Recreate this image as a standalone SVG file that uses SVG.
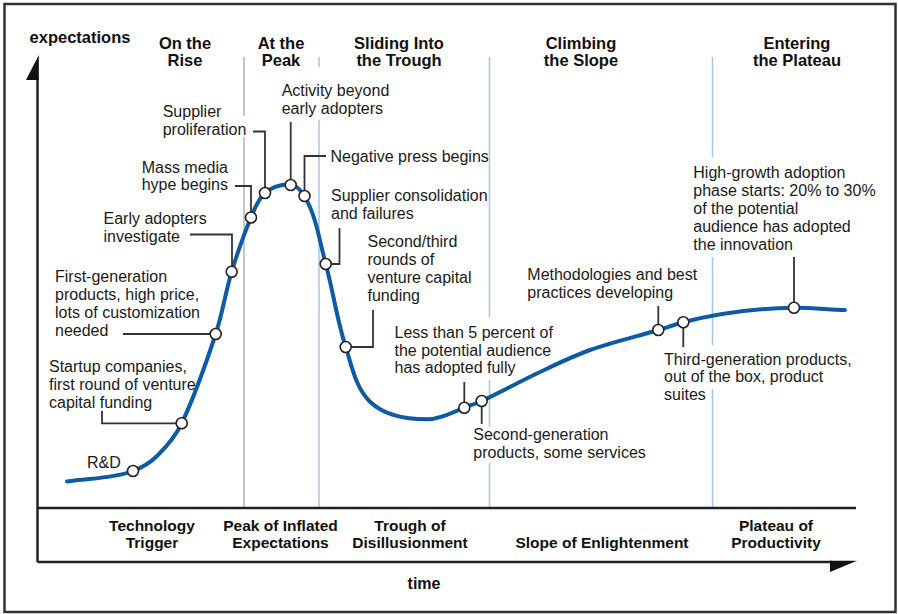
<svg xmlns="http://www.w3.org/2000/svg" width="898" height="614" viewBox="0 0 898 614">
<style>
.hd{font-family:"Liberation Sans",Arial,sans-serif;font-weight:bold;font-size:16.5px;fill:#111;text-anchor:middle}
.ph{font-family:"Liberation Sans",Arial,sans-serif;font-weight:bold;font-size:15.5px;fill:#111;text-anchor:middle}
.lb{font-family:"Liberation Sans",Arial,sans-serif;font-size:16px;fill:#1a1a1a}
.gray{stroke:#b3b3b3;stroke-width:1.5;fill:none}
.blue{stroke:#a4c4e8;stroke-width:1.5;fill:none}
.ax{stroke:#222;stroke-width:2.5;fill:none}
.ld{stroke:#333;stroke-width:1.8;fill:none}
.dot{fill:#fff;stroke:#222;stroke-width:1.6}
</style>
<rect x="0" y="0" width="898" height="614" fill="#fff"/>
<rect x="4.5" y="4" width="891" height="608" fill="none" stroke="#333" stroke-width="2.5"/>
<g id="dividers">
<path class="gray" d="M244,57V116M244,137V508"/>
<path class="blue" d="M319,57V67M319,120V508"/>
<path class="blue" d="M489.5,57V317M489.5,380V427M489.5,463V508"/>
<path class="blue" d="M712.5,57V157M712.5,257V345M712.5,389V508"/>
</g>
<g id="axes">
<path class="ax" d="M37.5,78V562M37.5,508H856M37.5,562H832"/>
<polygon points="38.8,55 38.8,80 26,80" fill="#111"/>
<polygon points="830,560.8 857,560.8 830,572" fill="#111"/>
</g>
<g id="headers">
<text class="hd" x="80" y="43">expectations</text>
<text class="hd" x="185" y="48.5">On the</text>
<text class="hd" x="185" y="66">Rise</text>
<text class="hd" x="281" y="48.5">At the</text>
<text class="hd" x="281" y="66">Peak</text>
<text class="hd" x="399" y="48.5">Sliding Into</text>
<text class="hd" x="399" y="66">the Trough</text>
<text class="hd" x="581" y="48.5">Climbing</text>
<text class="hd" x="581" y="66">the Slope</text>
<text class="hd" x="797" y="48.5">Entering</text>
<text class="hd" x="797" y="66">the Plateau</text>
</g>
<g id="phases">
<text class="ph" x="152" y="531">Technology</text>
<text class="ph" x="152" y="548">Trigger</text>
<text class="ph" x="280.5" y="531">Peak of Inflated</text>
<text class="ph" x="280.5" y="548">Expectations</text>
<text class="ph" x="410" y="531">Trough of</text>
<text class="ph" x="410" y="548">Disillusionment</text>
<text class="ph" x="602" y="548">Slope of Enlightenment</text>
<text class="ph" x="776" y="531">Plateau of</text>
<text class="ph" x="776" y="548">Productivity</text>
<text class="ph" x="424" y="588.5" style="font-size:16px">time</text>
</g>
<g id="hype-curve">
<path fill="none" stroke="#0d5aa7" stroke-width="4" stroke-linecap="round" d="M67,481.5 C89,478 112.2,478.9 133,471 C141.8,467.7 150.3,462.6 157,456 C166.8,446.4 175.8,435.6 181.7,423.3 C195.5,394.6 205.7,364.2 215.7,334 C222.4,313.7 225.5,292.2 231.7,271.7 C237.3,253.3 243.5,235.2 251,217.5 C254.7,208.8 257.9,199.2 265,193 C271.4,187.4 280.5,184.5 289,184.5 C295.4,184.5 301.3,190.5 304.5,196 C316.4,216.5 319.5,241.1 325.7,264 C333.2,291.5 337,319.9 345.7,347 C351.8,366 355.6,387.9 370,401.7 C384.3,415.4 407.1,419.3 427,419.3 C440,419.3 452.2,412.5 464.3,407.7 C470.1,405.4 476.1,403.6 481.7,401 C501.3,391.7 520.4,381.2 540,372 C556.5,364.2 572.9,356.1 590,350 C612.3,342.1 635.6,336.8 658.3,330 C666.6,327.5 674.9,324.5 683.3,322.3 C719.4,313 756.8,308.4 794,307.7 C811,307.4 828,309.5 845,310"/>
</g>
<g id="connectors">
<path class="ld" d="M102,411V423.3H176"/>
<path class="ld" d="M123,334H210"/>
<path class="ld" d="M190,234.5H232V266"/>
<path class="ld" d="M235,186H251V212"/>
<path class="ld" d="M253,131.5H265V187.5"/>
<path class="ld" d="M290.7,122V179.5"/>
<path class="ld" d="M326,156H304.5V190.5"/>
<path class="ld" d="M339.5,228V264H331.5"/>
<path class="ld" d="M373,310V347H351.5"/>
<path class="ld" d="M464.3,382V402"/>
<path class="ld" d="M481.7,407V424"/>
<path class="ld" d="M658.3,306V324.5"/>
<path class="ld" d="M683.3,328V347"/>
<path class="ld" d="M794,257V302"/>
</g>
<g id="n-rd"><circle class="dot" cx="133" cy="471" r="5.5"/><text class="lb" x="87" y="468">R&amp;D</text></g>
<g id="n-startup"><circle class="dot" cx="181.7" cy="423.3" r="5.5"/><text class="lb" x="49" y="371.5">Startup companies,</text><text class="lb" x="49" y="389.5">first round of venture</text><text class="lb" x="49" y="407.5">capital funding</text></g>
<g id="n-firstgen"><circle class="dot" cx="215.7" cy="334" r="5.5"/><text class="lb" x="55" y="281.5">First-generation</text><text class="lb" x="55" y="299.5">products, high price,</text><text class="lb" x="55" y="317.5">lots of customization</text><text class="lb" x="55" y="335.5">needed</text></g>
<g id="n-early"><circle class="dot" cx="231.7" cy="271.7" r="5.5"/><text class="lb" x="103.5" y="224">Early adopters</text><text class="lb" x="103.5" y="241.5">investigate</text></g>
<g id="n-media"><circle class="dot" cx="251" cy="217.5" r="5.5"/><text class="lb" x="141.7" y="172.5">Mass media</text><text class="lb" x="141.7" y="190">hype begins</text></g>
<g id="n-prolif"><circle class="dot" cx="265" cy="193" r="5.5"/><text class="lb" x="162.7" y="117">Supplier</text><text class="lb" x="162.7" y="135">proliferation</text></g>
<g id="n-activity"><circle class="dot" cx="290.7" cy="185" r="5.5"/><text class="lb" x="281.7" y="96">Activity beyond</text><text class="lb" x="281.7" y="114">early adopters</text></g>
<g id="n-negative"><circle class="dot" cx="304.5" cy="196" r="5.5"/><text class="lb" x="330.5" y="162">Negative press begins</text></g>
<g id="n-consol"><circle class="dot" cx="325.7" cy="264" r="5.5"/><text class="lb" x="331" y="201">Supplier consolidation</text><text class="lb" x="331" y="219">and failures</text></g>
<g id="n-rounds"><circle class="dot" cx="345.7" cy="347" r="5.5"/><text class="lb" x="367.5" y="247">Second/third</text><text class="lb" x="367.5" y="265">rounds of</text><text class="lb" x="367.5" y="283">venture capital</text><text class="lb" x="367.5" y="301">funding</text></g>
<g id="n-less5"><circle class="dot" cx="464.3" cy="407.7" r="5.5"/><text class="lb" x="394.5" y="338">Less than 5 percent of</text><text class="lb" x="394.5" y="355.5">the potential audience</text><text class="lb" x="394.5" y="373">has adopted fully</text></g>
<g id="n-secondgen"><circle class="dot" cx="481.7" cy="401" r="5.5"/><text class="lb" x="473.3" y="440">Second-generation</text><text class="lb" x="473.3" y="457.5">products, some services</text></g>
<g id="n-method"><circle class="dot" cx="658.3" cy="330" r="5.5"/><text class="lb" x="527.3" y="280">Methodologies and best</text><text class="lb" x="527.3" y="298">practices developing</text></g>
<g id="n-thirdgen"><circle class="dot" cx="683.3" cy="322.3" r="5.5"/><text class="lb" x="664" y="364.5">Third-generation products,</text><text class="lb" x="664" y="382">out of the box, product</text><text class="lb" x="664" y="399.5">suites</text></g>
<g id="n-highgrowth"><circle class="dot" cx="794" cy="307.7" r="5.5"/><text class="lb" x="693.3" y="178">High-growth adoption</text><text class="lb" x="693.3" y="196">phase starts: 20% to 30%</text><text class="lb" x="693.3" y="214">of the potential</text><text class="lb" x="693.3" y="232">audience has adopted</text><text class="lb" x="693.3" y="250">the innovation</text></g>
</svg>
